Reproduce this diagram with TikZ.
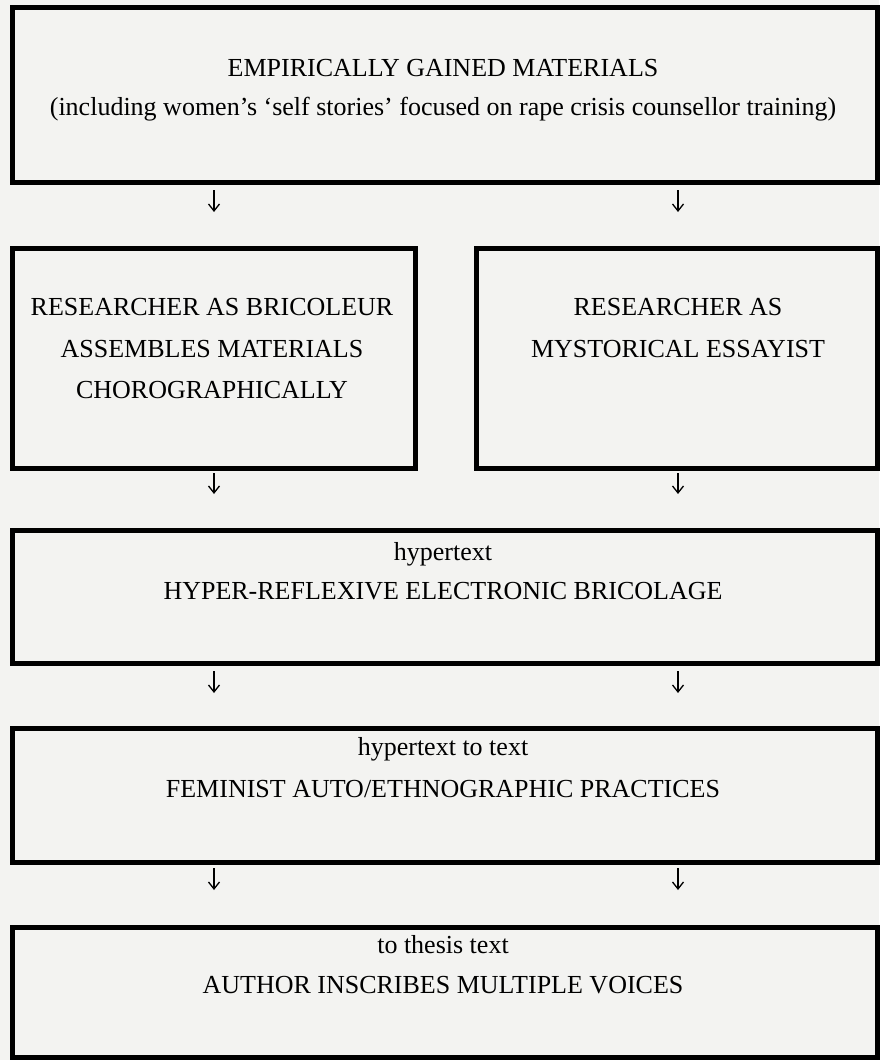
\documentclass[tikz,border=0pt]{standalone}
\usepackage{fontspec}
\setmainfont{Liberation Serif}
\usetikzlibrary{arrows.meta}
\definecolor{bgpaper}{RGB}{243,243,241}
\begin{document}
\begin{tikzpicture}[x=1pt,y=-1pt,
  stagebox/.style={draw=black,line width=5pt,fill=bgpaper,inner sep=0pt,outer sep=0pt},
  label/.style={font=\fontsize{26}{41}\selectfont,anchor=mid,inner sep=0pt,align=center},
  flowarrow/.style={line width=1.3pt,-{Straight Barb[length=7pt,width=11pt,line width=1.3pt]}}
]
\fill[bgpaper] (0,0) rectangle (879,1060);
\useasboundingbox (0,0) rectangle (879,1060);

% boxes
\node[stagebox,minimum width=865pt,minimum height=175pt] (b1) at (444.5,95) {};
\node[stagebox,minimum width=403pt,minimum height=220pt] (b2a) at (213.5,358) {};
\node[stagebox,minimum width=401pt,minimum height=220pt] (b2b) at (676.5,358) {};
\node[stagebox,minimum width=865pt,minimum height=133pt] (b3) at (444.5,596.5) {};
\node[stagebox,minimum width=865pt,minimum height=134pt] (b4) at (444.5,795) {};
\node[stagebox,minimum width=865pt,minimum height=130pt] (b5) at (444.5,992) {};

% texts
\node[label] (t1a) at (443,74) {EMPIRICALLY GAINED MATERIALS};
\node[label] (t1b) at (443,113) {(including women’s ‘self stories’ focused on rape crisis counsellor training)};
\node[label] (t2a1) at (212,313) {RESEARCHER AS BRICOLEUR};
\node[label] (t2a2) at (212,355) {ASSEMBLES MATERIALS};
\node[label] (t2a3) at (212,396) {CHOROGRAPHICALLY};
\node[label] (t2b1) at (678,313) {RESEARCHER AS};
\node[label] (t2b2) at (678,355) {MYSTORICAL ESSAYIST};
\node[label] (t3a) at (443,558) {hypertext};
\node[label] (t3b) at (443,597) {HYPER-REFLEXIVE ELECTRONIC BRICOLAGE};
\node[label] (t4a) at (443,753) {hypertext to text};
\node[label] (t4b) at (443,795) {FEMINIST AUTO/ETHNOGRAPHIC PRACTICES};
\node[label] (t5a) at (443,951) {to thesis text};
\node[label] (t5b) at (443,991) {AUTHOR INSCRIBES MULTIPLE VOICES};

% arrow endpoints
\foreach \n/\x in {l/214,r/678}{
  \coordinate (a1\n s) at (\x,190); \coordinate (a1\n e) at (\x,212);
  \coordinate (a2\n s) at (\x,473); \coordinate (a2\n e) at (\x,494);
  \coordinate (a3\n s) at (\x,671); \coordinate (a3\n e) at (\x,693);
  \coordinate (a4\n s) at (\x,868); \coordinate (a4\n e) at (\x,890);
}
\foreach \r in {1,2,3,4}{
  \draw[flowarrow] (a\r ls) -- (a\r le);
  \draw[flowarrow] (a\r rs) -- (a\r re);
}
\end{tikzpicture}
\end{document}
